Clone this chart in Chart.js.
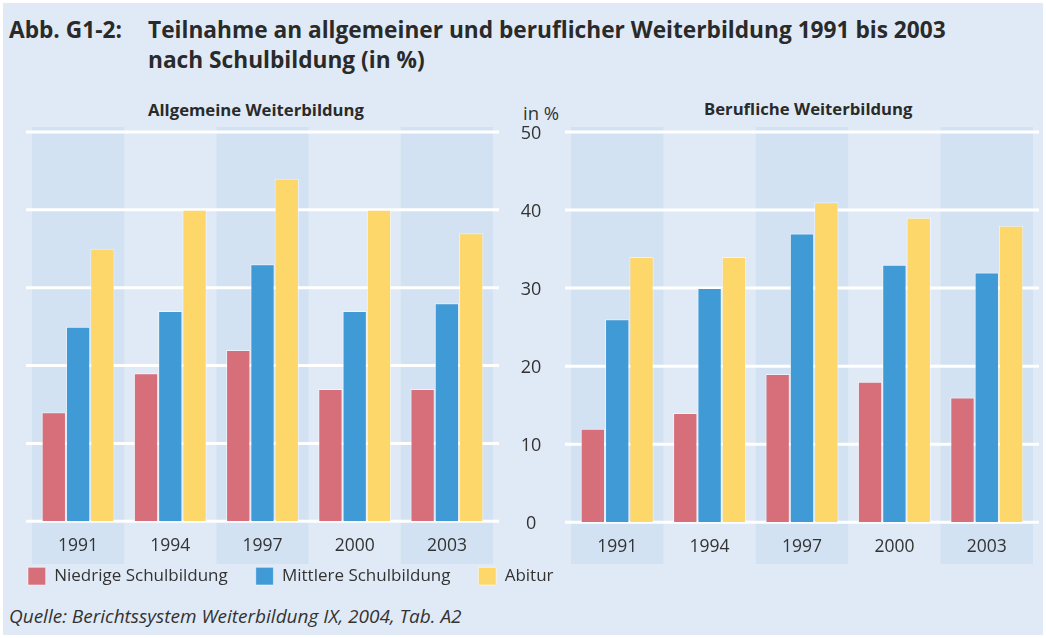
<!DOCTYPE html>
<html lang="de">
<head>
<meta charset="utf-8">
<title>Abb. G1-2</title>
<script src="https://cdn.jsdelivr.net/npm/chart.js@4.4.1/dist/chart.umd.min.js"></script>
<style>
  html, body { margin: 0; padding: 0; background: #fff; }
  #wrap { position: relative; width: 1046px; height: 638px; overflow: hidden; font-family: 'Open Sans', sans-serif; color: #333; }
  #bg { position: absolute; left: 3px; top: 3px; right: 3px; bottom: 3px; background: #e0eaf6; }
  .txt { position: absolute; white-space: nowrap; line-height: 1; }
  .titel { font-weight: bold; font-size: 22.7px; line-height: 30px; color: #2a2a2a; }
  .sub { font-weight: bold; font-size: 16.7px; color: #2a2a2a; }
  canvas { position: absolute; top: 0; }
</style>
</head>
<body>
<div id="wrap">
  <div id="bg"></div>
  <div class="txt titel" style="left:9px; top:14.5px;">Abb. G1-2:</div>
  <div class="txt titel" style="left:148px; top:14.5px;">Teilnahme an allgemeiner und beruflicher Weiterbildung 1991 bis 2003<br>nach Schulbildung (in %)</div>
  <div class="txt sub" style="left:148px; top:102px;">Allgemeine Weiterbildung</div>
  <div class="txt sub" style="left:704px; top:101px;">Berufliche Weiterbildung</div>
  <div class="txt" style="left:523px; top:103.6px; font-size:18.5px;">in %</div>
  <div class="txt" style="left:9px; top:607px; font-size:19px; font-style:italic;">Quelle: Berichtssystem Weiterbildung IX, 2004, Tab. A2</div>
  <canvas id="links" width="620" height="638" style="left:0;"></canvas>
  <canvas id="rechts" width="546" height="638" style="left:500px;"></canvas>
</div>
<script>
// Daten (in %)
const jahre = ['1991', '1994', '1997', '2000', '2003'];
const serien = ['Niedrige Schulbildung', 'Mittlere Schulbildung', 'Abitur'];
const farben = ['#d76f7a', '#409ad6', '#fed76b'];

const allgNiedrig = [14, 19, 22, 17, 17];
const allgMittel = [25, 27, 33, 27, 28];
const allgAbitur = [35, 40, 44, 40, 37];

const berufNiedrig = [12, 14, 19, 18, 16];
const berufMittel = [26, 30, 37, 33, 32];
const berufAbitur = [34, 34, 41, 39, 38];

const yMax = 50;
const yStep = 10;

const schrift = "'Open Sans', sans-serif";
const textFarbe = '#333';

// Streifen hinter den Jahren und weiße Gitterlinien
const hintergrund = {
  id: 'hintergrund',
  beforeDraw(chart) {
    const { ctx, chartArea, scales: { x, y } } = chart;
    const breite = (chartArea.right - chartArea.left) / x.ticks.length;
    ctx.save();
    ctx.fillStyle = '#d3e2f3';
    x.ticks.forEach((t, i) => {
      if (i % 2) return;
      const mitte = x.getPixelForTick(i);
      ctx.fillRect(mitte - breite / 2, 127, breite, 437);
    });
    ctx.strokeStyle = '#fff';
    ctx.lineWidth = 3;
    y.ticks.forEach(t => {
      const py = y.getPixelForValue(t.value);
      ctx.beginPath();
      ctx.moveTo(chartArea.left - 6, py);
      ctx.lineTo(chartArea.right + 6, py);
      ctx.stroke();
    });
    ctx.restore();
  }
};

// Legende direkt unter die Jahreszahlen schieben
const legendeHoch = {
  id: 'legendeHoch',
  afterLayout(chart) {
    const lg = chart.legend;
    if (!lg) return;
    const d = lg.top - (chart.chartArea.bottom + 18);
    lg.top -= d;
    lg.bottom -= d;
  }
};

function datensaetze(werte) {
  return werte.map((w, i) => ({
    label: serien[i],
    data: w,
    backgroundColor: farben[i],
    borderColor: 'rgba(255,255,255,0.5)',
    borderWidth: 1,
    categoryPercentage: 0.79,
    barPercentage: 1
  }));
}

function xAchse() {
  return {
    grid: { display: false },
    border: { display: false },
    ticks: { color: textFarbe, font: { family: schrift, size: 17.5 }, padding: 6 },
    afterFit(s) { s.height = 42.3; }
  };
}

function leereAchse(breite, seite) {
  return {
    position: seite,
    min: 0, max: yMax,
    ticks: { stepSize: yStep, display: false },
    grid: { display: false, drawTicks: false },
    border: { display: false },
    afterFit(s) { s.width = breite; }
  };
}

// Linkes Diagramm: Allgemeine Weiterbildung (mit Legende)
new Chart(document.getElementById('links'), {
  type: 'bar',
  data: { labels: jahre, datasets: datensaetze([allgNiedrig, allgMittel, allgAbitur]) },
  options: {
    responsive: false,
    animation: false,
    layout: { padding: { left: 0, right: 0, top: 132, bottom: 18.7 } },
    scales: {
      x: xAchse(),
      y: leereAchse(32, 'left'),
      rand: leereAchse(127, 'right')
    },
    plugins: {
      legend: {
        position: 'bottom',
        align: 'start',
        labels: {
          boxWidth: 17.7, boxHeight: 17.7, padding: 28,
          color: textFarbe, font: { family: schrift, size: 17 }
        }
      },
      tooltip: { enabled: false }
    }
  },
  plugins: [hintergrund, legendeHoch]
});

// Rechtes Diagramm: Berufliche Weiterbildung (mit y-Achse)
new Chart(document.getElementById('rechts'), {
  type: 'bar',
  data: { labels: jahre, datasets: datensaetze([berufNiedrig, berufMittel, berufAbitur]) },
  options: {
    responsive: false,
    animation: false,
    layout: { padding: { left: 0, right: 13, top: 132, bottom: 73.4 } },
    scales: {
      x: xAchse(),
      y: {
        min: 0, max: yMax,
        ticks: { stepSize: yStep, crossAlign: 'center', padding: 29.6, labelOffset: 2, color: textFarbe, font: { family: schrift, size: 18 } },
        grid: { display: false, drawTicks: false },
        border: { display: false },
        afterFit(s) { s.width = 71; }
      }
    },
    plugins: {
      legend: { display: false },
      tooltip: { enabled: false }
    }
  },
  plugins: [hintergrund]
});
</script>
</body>
</html>
